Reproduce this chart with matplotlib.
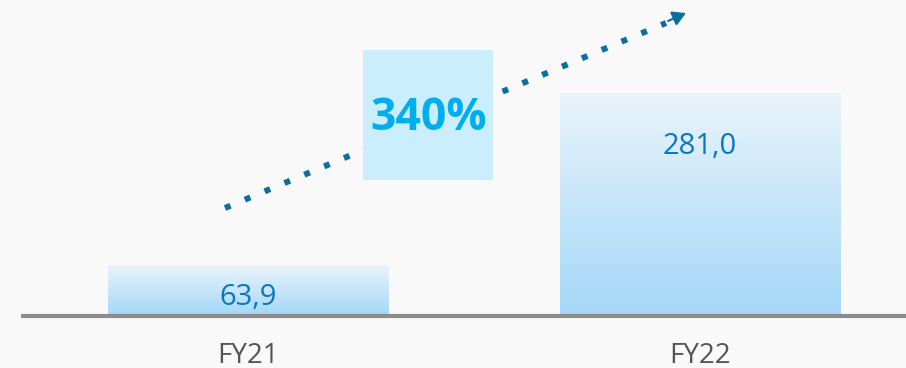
import matplotlib.pyplot as plt
import numpy as np
from matplotlib.colors import LinearSegmentedColormap
from matplotlib.patches import Rectangle

plt.rcParams['font.family'] = ['Open Sans', 'DejaVu Sans']

categories = ['FY21', 'FY22']
values = [63.9, 281.0]
value_labels = ['63,9', '281,0']
growth_label = '340%'

bg = '#f9f9f9'
fig = plt.figure(figsize=(9.06, 3.68), dpi=100, facecolor=bg)
ax = fig.add_axes([0, 0, 1, 1])
ax.set_facecolor(bg)

# pixel layout: bar centres at 248 and 700 px, baseline at 52 px from bottom
ax.set_xlim(-0.5487, 1.4558)
ax.set_ylim(-65.8, 400)
ax.axis('off')

width = 0.6195
cmap = LinearSegmentedColormap.from_list('bar', ['#a4d7f7', '#e9f4fb'])
grad = np.linspace(0, 1, 256).reshape(-1, 1)

for i, (cat, v, lab) in enumerate(zip(categories, values, value_labels)):
    x0, x1 = i - width / 2, i + width / 2
    ax.imshow(grad, cmap=cmap, origin='lower', aspect='auto',
              extent=[x0, x1, 0, v], zorder=1)
    ax.text(i, -59, cat, ha='center', va='baseline', fontsize=20, color='#555555')
    if v < 100:
        ax.text(i, 14, lab, ha='center', va='baseline', fontsize=21, color='#0a78bf')
    else:
        ax.text(i, v - 76, lab, ha='center', va='baseline', fontsize=21, color='#0a78bf')

ax.set_xlim(-0.5487, 1.4558)
ax.set_ylim(-65.8, 400)

# baseline
ax.plot([21 / 906, 1], [52 / 368, 52 / 368], transform=ax.transAxes,
        color='#8c8c8c', lw=3, solid_capstyle='butt', zorder=3)

# growth box
ax.add_patch(Rectangle((363 / 906, 1 - 180 / 368), 130 / 906, 130 / 368,
                       transform=ax.transAxes, facecolor='#cbeeff',
                       edgecolor='none', zorder=2))
ax.text(429 / 906, 1 - 118 / 368, growth_label, transform=ax.transAxes,
        ha='center', va='center', fontsize=32, fontweight='bold', color='#00aeef', zorder=4)

# dotted arrow
sx, sy = 225 / 906, 1 - 208 / 368
ex, ey = 666 / 906, 1 - 23 / 368
ax.plot([sx, ex], [sy, ey], transform=ax.transAxes, color='#0a6e9f',
        lw=4.3, linestyle=(0, (1, 2.6)), dash_capstyle='butt', zorder=1.5)
ax.annotate('', xy=(686 / 906, 1 - 13 / 368), xycoords='axes fraction',
            xytext=(668 / 906, 1 - 21 / 368), textcoords='axes fraction',
            arrowprops=dict(arrowstyle='-|>,head_length=0.8,head_width=0.45',
                            color='#0a6e9f', lw=1.5, shrinkA=0, shrinkB=0))

fig.savefig('out.png', dpi=100, facecolor=bg)
